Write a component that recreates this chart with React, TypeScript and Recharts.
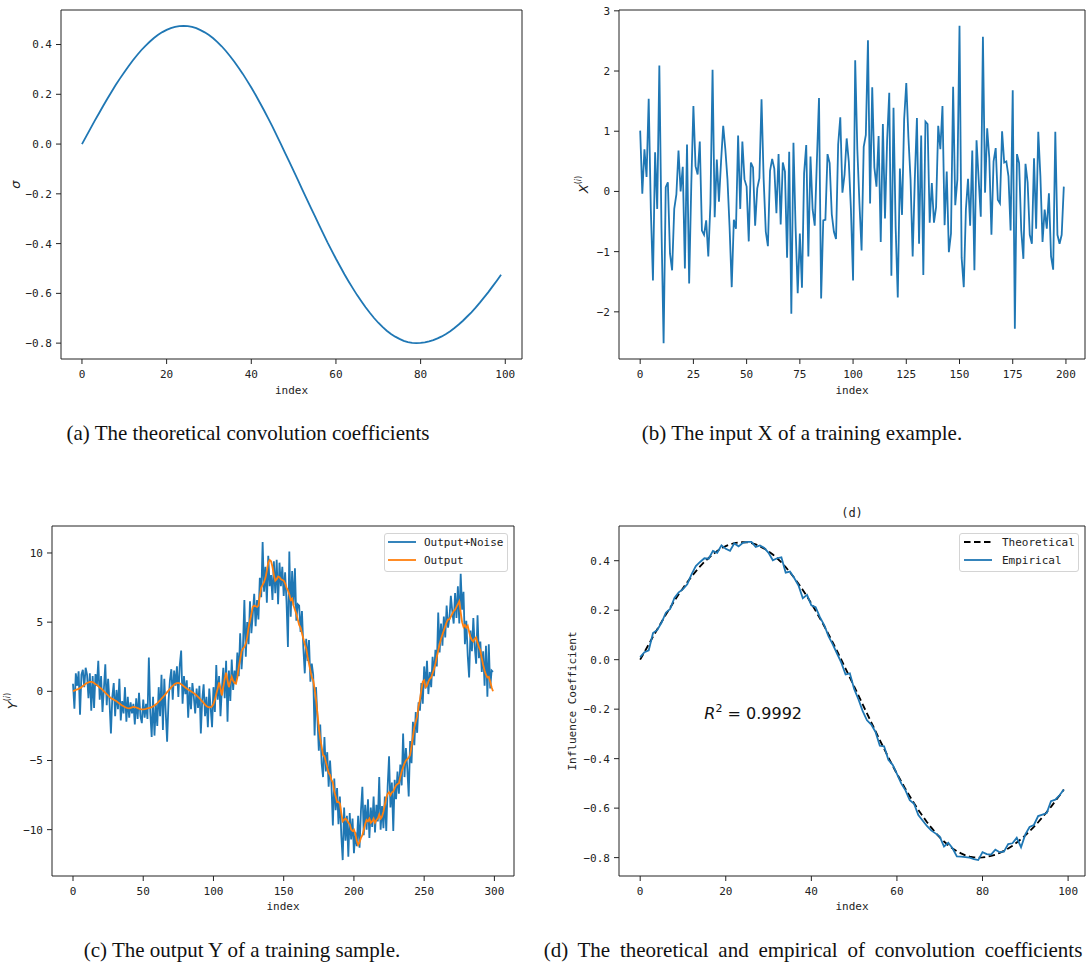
import React from "react";
import {
  LineChart,
  Line,
  XAxis,
  YAxis,
  ReferenceArea,
  ReferenceDot,
  Legend,
} from "recharts";

const BLUE = "#1f77b4";
const ORANGE = "#ff7f0e";
const INK = "#222";
const MONO = "'DejaVu Sans Mono', monospace";
const MATH = "'DejaVu Sans', sans-serif";
const SERIF = "'Liberation Serif', 'Times New Roman', serif";

// (a) and the dashed curve of (d): theoretical coefficient per index 0..99
const theoretical = [
  0, 0.031, 0.062, 0.093, 0.123, 0.153, 0.182, 0.21, 0.238, 0.264,
  0.289, 0.313, 0.336, 0.357, 0.377, 0.395, 0.411, 0.426, 0.439, 0.45,
  0.459, 0.466, 0.471, 0.474, 0.475, 0.474, 0.471, 0.466, 0.458, 0.449,
  0.438, 0.425, 0.41, 0.393, 0.374, 0.353, 0.331, 0.307, 0.282, 0.255,
  0.227, 0.198, 0.167, 0.136, 0.103, 0.07, 0.035, 0.0, -0.036, -0.072,
  -0.108, -0.144, -0.181, -0.217, -0.253, -0.289, -0.325, -0.36, -0.395, -0.428,
  -0.461, -0.492, -0.523, -0.552, -0.58, -0.607, -0.632, -0.656, -0.678, -0.699,
  -0.718, -0.735, -0.75, -0.763, -0.774, -0.783, -0.791, -0.796, -0.799, -0.8,
  -0.799, -0.797, -0.793, -0.788, -0.781, -0.773, -0.763, -0.752, -0.739, -0.725,
  -0.71, -0.693, -0.676, -0.657, -0.637, -0.616, -0.595, -0.572, -0.549, -0.525,
];

// (d) empirical estimate
const empirical = [
  0.01, 0.03, 0.038, 0.108, 0.12, 0.15, 0.19, 0.205, 0.25, 0.272,
  0.285, 0.305, 0.345, 0.378, 0.395, 0.41, 0.408, 0.44, 0.432, 0.462,
  0.448, 0.44, 0.47, 0.458, 0.472, 0.476, 0.476, 0.456, 0.462, 0.452,
  0.432, 0.402, 0.41, 0.414, 0.352, 0.356, 0.33, 0.3, 0.248, 0.262,
  0.22, 0.212, 0.172, 0.14, 0.095, 0.062, 0.025, -0.012, -0.06, -0.055,
  -0.118, -0.16, -0.208, -0.245, -0.262, -0.292, -0.348, -0.35, -0.405, -0.425,
  -0.462, -0.5, -0.528, -0.568, -0.582, -0.628, -0.65, -0.672, -0.69, -0.702,
  -0.715, -0.755, -0.74, -0.762, -0.795, -0.796, -0.798, -0.8, -0.806, -0.81,
  -0.778, -0.786, -0.788, -0.768, -0.778, -0.776, -0.745, -0.742, -0.72, -0.758,
  -0.706, -0.676, -0.668, -0.632, -0.626, -0.62, -0.572, -0.566, -0.548, -0.525,
];

// (b) input X of one training example, index 0..199
const inputX = [
  1.01, -0.04, 0.7, 0.24, 1.54, -0.3, -1.48, 0.65, -0.29, 2.09,
  -0.6, -2.52, 0.07, 0.15, -1.03, -1.31, -0.29, -0.05, 0.68, 0.0,
  0.41, -1.28, 0.78, -1.53, 0.1, 1.42, 0.42, 0.28, 0.83, -0.65,
  -0.72, -0.48, -1.08, -0.2, 2.02, -0.43, 0.53, -0.17, 0.5, 1.09,
  0.7, 0.2, -0.6, -1.59, -0.47, -0.62, 0.93, -0.29, 0.83, 0.2,
  0.08, -0.83, 0.48, 0.4, -0.57, 0.05, 0.22, 1.53, 0.2, -0.67,
  -0.91, 0.34, 0.54, 0.38, -0.36, 0.62, -0.55, 0.48, 0.33, -1.1,
  0.66, -2.03, 0.81, -0.6, -1.69, -0.7, -1.6, 0.3, 0.77, -1.08,
  0.58, -0.3, -0.57, 0.5, 1.55, -1.78, -0.48, -0.47, 0.62, 0.47,
  -0.38, -0.67, -0.79, 0.78, 1.23, -0.02, 0.28, 0.88, 0.49, -0.3,
  -1.48, 2.18, 0.7, -0.2, -0.98, 0.74, 0.94, 2.51, -0.2, 1.73,
  0.4, 0.08, 0.92, -0.84, 1.12, -0.45, 0.85, 1.64, -1.4, 1.39,
  -0.59, -1.76, 0.38, -0.39, 1.2, 1.8, 0.9, 0.2, -1.08, 0.2,
  1.22, -0.87, 0.93, -1.39, 1.16, 1.12, -0.52, 0.14, -0.52, -0.26,
  1.09, 0.7, 1.42, -0.56, 0.33, -1.01, -0.7, 1.74, -0.23, 0.2,
  2.75, -1.1, -1.59, -0.3, 0.21, -0.57, 0.68, -1.31, 0.85, 0.2,
  -0.42, 2.57, -0.02, 1.05, 0.55, -0.72, 0.5, 0.72, -0.14, -0.2,
  1.0, 0.48, 0.5, 0.25, -0.65, 1.68, -2.28, 0.62, 0.47, -0.65,
  -1.12, 0.46, 0.15, -0.72, -0.87, 0.55, -0.62, 0.99, 0.25, -0.84,
  -0.3, -0.62, -0.03, -1.08, -1.3, 0.99, -0.72, -0.87, -0.72, 0.08,
];

// (c) output without noise, index 0..299
const output = [
  0.0, 0.05, 0.1, 0.14, 0.18, 0.23, 0.3, 0.38, 0.46, 0.54,
  0.6, 0.65, 0.68, 0.68, 0.66, 0.6, 0.52, 0.45, 0.37, 0.28,
  0.2, 0.1, 0.0, -0.1, -0.2, -0.3, -0.4, -0.48, -0.55, -0.6,
  -0.66, -0.72, -0.8, -0.88, -0.95, -1.02, -1.08, -1.14, -1.19, -1.22,
  -1.23, -1.2, -1.16, -1.13, -1.14, -1.17, -1.21, -1.25, -1.28, -1.3,
  -1.3, -1.29, -1.27, -1.24, -1.21, -1.18, -1.14, -1.09, -1.02, -0.94,
  -0.85, -0.75, -0.65, -0.53, -0.42, -0.3, -0.18, -0.06, 0.06, 0.18,
  0.3, 0.4, 0.49, 0.56, 0.6, 0.61, 0.58, 0.52, 0.44, 0.36,
  0.28, 0.2, 0.13, 0.06, 0.0, -0.06, -0.13, -0.21, -0.3, -0.4,
  -0.5, -0.61, -0.72, -0.84, -0.96, -1.06, -1.13, -1.16, -1.15, -1.08,
  -0.92, -0.6, -0.2, 0.2, 0.65, 0.2, -0.3, 0.3, 0.9, 1.35,
  0.8, 0.3, 0.7, 1.05, 0.75, 0.6, 0.55, 1.0, 1.75, 2.3,
  2.9, 3.1, 3.2, 3.45, 3.9, 4.6, 5.1, 5.6, 6.1, 6.2,
  6.15, 6.1, 6.2, 6.9, 7.5, 7.7, 7.9, 8.2, 8.7, 9.3,
  9.5, 9.4, 9.0, 8.4, 8.0, 8.1, 8.3, 8.25, 8.1, 8.05,
  8.0, 7.8, 7.5, 7.3, 7.0, 6.6, 6.7, 6.2, 5.9, 5.6,
  5.2, 4.8, 4.6, 4.2, 3.8, 3.4, 3.1, 2.5, 2.0, 1.5,
  1.0, 0.8, 0.2, -0.6, -1.6, -2.6, -3.4, -4.0, -4.6, -4.7,
  -5.1, -5.5, -5.9, -6.05, -6.4, -6.6, -7.25, -7.6, -8.0, -8.0,
  -8.1, -8.8, -9.4, -9.3, -9.2, -9.3, -9.5, -9.6, -10.0, -10.1,
  -10.0, -10.3, -10.8, -11.1, -10.9, -10.6, -10.4, -10.0, -9.6, -9.3,
  -9.4, -9.2, -9.5, -9.4, -9.2, -9.5, -9.3, -9.2, -8.9, -9.2,
  -9.05, -8.7, -8.2, -7.7, -7.4, -7.3, -7.5, -7.3, -7.25, -7.0,
  -6.8, -6.7, -6.65, -6.2, -5.8, -5.5, -5.2, -5.0, -4.9, -4.8,
  -4.6, -4.0, -3.3, -2.6, -2.2, -1.8, -1.1, -0.6, 0.1, 0.7,
  0.8, 0.3, 0.4, 0.7, 0.9, 1.0, 1.3, 1.6, 2.0, 2.5,
  2.95, 3.4, 3.8, 4.1, 4.4, 4.7, 5.0, 5.2, 5.2, 5.4,
  5.6, 5.8, 5.9, 6.1, 6.3, 6.5, 5.7, 5.0, 4.65, 4.8,
  4.6, 4.75, 4.3, 3.9, 3.7, 3.6, 3.8, 3.9, 3.5, 3.2,
  2.95, 2.4, 1.9, 1.5, 1.2, 1.0, 1.05, 0.7, 0.3, 0.0,
];

// (c) output with noise
const outputNoise = [
  0.55, -1.25, 1.3, 0.4, 1.45, -1.7, 1.2, 1.55, 0.3, 1.7,
  1.2, -0.5, 1.3, -1.4, 1.1, -1.2, 1.25, 0.4, 2.2, -0.6,
  1.1, -1.5, 0.2, 1.95, -1.0, 0.9, -0.8, -3.05, -0.4, 0.6,
  -1.8, 0.1, -1.3, 0.9, -2.1, -0.7, -1.6, 0.3, -2.2, -0.4,
  -1.9, -0.8, -1.6, -0.9, -2.4, -0.5, -2.0, -0.1, -1.8, -2.3,
  -0.6, -1.9, -0.9, -2.0, 2.45, -1.5, -3.3, -0.4, -3.2, -1.0,
  -2.5, 0.3, -1.8, 1.2, -2.8, 0.9, -1.5, -3.65, -0.7, 0.8,
  1.6, -0.6, 1.5, 0.4, 1.8, -0.4, 1.9, 2.95, -0.9, 1.1,
  -0.2, 0.8, -1.9, 0.3, -1.3, 0.6, -0.4, -1.6, 0.2, -1.2,
  0.4, -3.05, -0.6, 0.5, -1.8, -0.4, -2.6, 0.2, -1.2, -2.6,
  0.3, -1.5, 1.9, -0.6, 1.1, -1.8, 0.2, 1.7, -0.5, 2.2,
  -2.2, 1.5, -0.7, 2.3, 0.1, 1.5, 0.6, 2.8, 1.1, 4.2,
  1.6, 3.2, 6.6, 2.5, 5.0, 3.4, 6.5, 4.2, 5.6, 7.05,
  4.7, 6.6, 5.2, 8.2, 6.8, 10.8, 7.2, 9.0, 6.4, 9.8,
  7.6, 8.4, 6.6, 9.4, 7.1, 9.5, 6.3, 9.3, 7.6, 9.0,
  6.9, 8.6, 6.5, 3.2, 10.1, 5.4, 8.7, 6.2, 8.9, 5.1,
  6.3, 6.2, 4.3, 5.8, 3.1, 1.3, 3.8, 2.2, 3.7, 0.7,
  2.0, 1.2, -3.2, 0.3, -1.9, -4.3, -2.4, -5.2, -6.2, -3.3,
  -5.8, -4.4, -6.9, -5.0, -6.8, -9.7, -6.3, -8.6, -7.0, -9.6,
  -7.6, -10.4, -12.2, -8.4, -10.8, -9.0, -11.95, -8.8, -10.7, -9.2,
  -11.7, -10.2, -11.2, -9.0, -11.3, -8.6, -6.9, -10.4, -8.2, -10.0,
  -7.8, -10.6, -8.4, -9.8, -7.6, -10.2, -8.2, -9.4, -6.2, -10.0,
  -8.3, -9.9, -7.6, -10.1, -6.9, -4.7, -8.4, -6.6, -10.1, -6.4,
  -7.8, -5.8, -7.4, -5.3, -6.8, -3.05, -6.2, -4.1, -5.6, -7.6,
  -3.6, -5.2, -2.2, -3.9, -1.5, -3.0, -0.8, -1.4, 0.6, -0.9,
  1.8, 0.2, 2.2, -0.2, 1.4, 0.3, 2.5, 1.1, 3.0, 1.8,
  5.7, 2.8, 4.9, 3.3, 5.4, 3.9, 6.2, 4.6, 5.3, 6.9,
  5.8, 4.9, 7.1, 5.3, 7.6, 4.9, 8.5, 5.9, 7.2, 3.4,
  5.1, 2.6, 1.0, 4.4, 2.9, 5.3, 3.2, 2.0, 5.5, 2.4,
  3.6, 1.4, 2.9, 0.4, 3.3, -0.4, 3.4, 0.2, 1.5, 1.4,
];

const coefTicksX = [0, 20, 40, 60, 80, 100];
const coefTicksY = [-0.8, -0.6, -0.4, -0.2, 0, 0.2, 0.4];
const inputTicksX = [0, 25, 50, 75, 100, 125, 150, 175, 200];
const inputTicksY = [-2, -1, 0, 1, 2, 3];
const outputTicksX = [0, 50, 100, 150, 200, 250, 300];
const outputTicksY = [-10, -5, 0, 5, 10];

const R2_VALUE = "0.9992";

const outputSeries = [
  { key: "noisy", name: "Output+Noise", color: BLUE, dash: undefined },
  { key: "clean", name: "Output", color: ORANGE, dash: undefined },
];
const coefSeries = [
  { key: "theoretical", name: "Theoretical", color: "#000", dash: "6.5 3.5" },
  { key: "empirical", name: "Empirical", color: BLUE, dash: undefined },
];

const sigmaRows = theoretical.map((v, i) => ({ index: i, sigma: v }));
const inputRows = inputX.map((v, i) => ({ index: i, x: v }));
const outputRows = output.map((v, i) => ({ index: i, clean: v, noisy: outputNoise[i] }));
const coefRows = theoretical.map((v, i) => ({ index: i, theoretical: v, empirical: empirical[i] }));

const minus = (s: string) => s.replace("-", "\u2212");
const fmt1 = (v: number) => minus(v.toFixed(1));
const fmt0 = (v: number) => minus(String(v));

const tickStyle = { fill: INK, fontSize: 11, fontFamily: MONO };
const xAxisProps = {
  dataKey: "index",
  type: "number" as const,
  axisLine: false,
  tickLine: { stroke: INK },
  tick: tickStyle,
  tickSize: 5,
  tickMargin: 6,
  interval: 0 as const,
  allowDataOverflow: true,
};
const yAxisProps = {
  type: "number" as const,
  axisLine: false,
  tickLine: { stroke: INK },
  tick: tickStyle,
  tickSize: 5,
  tickMargin: 4,
  interval: 0 as const,
  allowDataOverflow: true,
};

const indexLabel = (offset: number) => ({
  value: "index",
  position: "insideBottom" as const,
  offset,
  style: { fill: INK, fontSize: 11, fontFamily: MONO },
});

// rotated y label, relX is measured from the left edge of the axis box
function yLabel(relX: number, body: React.ReactNode, family: string, size: number) {
  return (props: any) => {
    const vb = props.viewBox || { x: 0, y: 0, height: 0 };
    const cx = vb.x + relX;
    const cy = vb.y + vb.height / 2;
    return (
      <text
        x={cx}
        y={cy}
        transform={`rotate(-90 ${cx} ${cy})`}
        textAnchor="middle"
        dominantBaseline="central"
        fontFamily={family}
        fontSize={size}
        fill={INK}
      >
        {body}
      </text>
    );
  };
}

function legendBox(items: typeof outputSeries, width: number, sx: number, tx: number) {
  return () => (
    <div
      style={{
        width,
        height: 39,
        boxSizing: "border-box",
        border: "1px solid #d4d4d4",
        borderRadius: 3,
        background: "rgba(255,255,255,0.8)",
      }}
    >
      <svg width={width - 2} height={37} style={{ display: "block" }}>
        {items.map((it, k) => (
          <g key={it.key}>
            <line
              x1={sx}
              x2={sx + 28}
              y1={8 + 18 * k}
              y2={8 + 18 * k}
              stroke={it.color}
              strokeWidth={1.8}
              strokeDasharray={it.dash}
            />
            <text
              x={tx}
              y={8 + 18 * k}
              dominantBaseline="central"
              fontFamily={MONO}
              fontSize={11}
              fill={INK}
            >
              {it.name}
            </text>
          </g>
        ))}
      </svg>
    </div>
  );
}

const r2Label = (props: any) => {
  const vb = props.viewBox || { x: 0, y: 0 };
  return (
    <text x={vb.x} y={vb.y} fontFamily={MATH} fontSize={16} fill="#111">
      <tspan fontStyle="italic">R</tspan>
      <tspan fontSize={11} dy={-7}>2</tspan>
      <tspan dy={7}>{" = " + R2_VALUE}</tspan>
    </text>
  );
};

const frame = (xd: number[], yd: number[], label?: any) => (
  <ReferenceArea
    x1={xd[0]}
    x2={xd[1]}
    y1={yd[0]}
    y2={yd[1]}
    fill="none"
    fillOpacity={0}
    stroke={INK}
    strokeWidth={1}
    ifOverflow="visible"
    label={label}
  />
);

const captionStyle = (cx: number, cy: number, wordSpacing = 0): React.CSSProperties => ({
  position: "absolute",
  left: cx - 300,
  top: cy - 12,
  width: 600,
  lineHeight: "24px",
  textAlign: "center",
  fontFamily: SERIF,
  fontSize: 21,
  wordSpacing,
  color: "#111",
  whiteSpace: "nowrap",
});

export default function App() {
  const aX = [-4.95, 103.95];
  const aY = [-0.86375, 0.53875];
  const bX = [-9.95, 208.95];
  const bY = [-2.7835, 3.0135];
  const cX = [-14.95, 313.95];
  const cY = [-13.35, 11.95];
  const dX = [-4.95, 103.95];
  const dY = [-0.8743, 0.5403];

  return (
    <div
      style={{
        position: "absolute",
        left: 0,
        top: 0,
        width: 1086,
        height: 966,
        background: "#fff",
        overflow: "hidden",
      }}
    >
      {/* (a) */}
      <div style={{ position: "absolute", left: 0, top: 0 }}>
        <LineChart width={540} height={400} data={sigmaRows} margin={{ top: 10, right: 18, left: 0, bottom: 0 }}>
          <XAxis {...xAxisProps} domain={aX} ticks={coefTicksX} height={41} label={indexLabel(6)} />
          <YAxis
            {...yAxisProps}
            domain={aY}
            ticks={coefTicksY}
            tickFormatter={fmt1}
            width={61}
            label={yLabel(15, <tspan fontStyle="italic">σ</tspan>, MATH, 13)}
          />
          {frame(aX, aY)}
          <Line dataKey="sigma" type="linear" stroke={BLUE} strokeWidth={1.8} dot={false} isAnimationActive={false} />
        </LineChart>
      </div>

      {/* (b) */}
      <div style={{ position: "absolute", left: 540, top: 0 }}>
        <LineChart width={546} height={400} data={inputRows} margin={{ top: 10, right: 1, left: 0, bottom: 0 }}>
          <XAxis {...xAxisProps} domain={bX} ticks={inputTicksX} height={41} label={indexLabel(6)} />
          <YAxis
            {...yAxisProps}
            domain={bY}
            ticks={inputTicksY}
            tickFormatter={fmt0}
            width={79}
            label={yLabel(
              43,
              <>
                <tspan fontStyle="italic">X</tspan>
                <tspan fontSize={8} dy={-5}>(</tspan>
                <tspan fontSize={8} fontStyle="italic">i</tspan>
                <tspan fontSize={8}>)</tspan>
              </>,
              MATH,
              13
            )}
          />
          {frame(bX, bY)}
          <Line dataKey="x" type="linear" stroke={BLUE} strokeWidth={1.8} dot={false} isAnimationActive={false} />
        </LineChart>
      </div>

      {/* (c) */}
      <div style={{ position: "absolute", left: 0, top: 480 }}>
        <LineChart width={540} height={440} data={outputRows} margin={{ top: 46, right: 26, left: 0, bottom: 0 }}>
          <XAxis {...xAxisProps} domain={cX} ticks={outputTicksX} height={44} label={indexLabel(10)} />
          <YAxis
            {...yAxisProps}
            domain={cY}
            ticks={outputTicksY}
            tickFormatter={fmt0}
            width={52}
            label={yLabel(
              12,
              <>
                <tspan fontStyle="italic">Y</tspan>
                <tspan fontSize={8} dy={-5}>(</tspan>
                <tspan fontSize={8} fontStyle="italic">i</tspan>
                <tspan fontSize={8}>)</tspan>
              </>,
              MATH,
              13
            )}
          />
          {frame(cX, cY)}
          {outputSeries.map((s) => (
            <Line
              key={s.key}
              dataKey={s.key}
              name={s.name}
              type="linear"
              stroke={s.color}
              strokeWidth={1.8}
              dot={false}
              isAnimationActive={false}
            />
          ))}
          <Legend
            layout="horizontal"
            align="center"
            verticalAlign="middle"
            wrapperStyle={{ top: 53, left: 384, width: 124, height: 39 }}
            content={legendBox(outputSeries, 124, 3, 39)}
          />
        </LineChart>
      </div>

      {/* (d) */}
      <div style={{ position: "absolute", left: 540, top: 480 }}>
        <LineChart width={546} height={440} data={coefRows} margin={{ top: 46, right: 1, left: 0, bottom: 0 }}>
          <XAxis {...xAxisProps} domain={dX} ticks={coefTicksX} height={44} label={indexLabel(10)} />
          <YAxis
            {...yAxisProps}
            domain={dY}
            ticks={coefTicksY}
            tickFormatter={fmt1}
            width={79}
            label={yLabel(32, "Influence Coefficient", MONO, 11)}
          />
          {frame(dX, dY, {
            value: "(d)",
            position: "top",
            offset: 9,
            style: { fill: INK, fontSize: 12, fontFamily: MONO },
          })}
          {coefSeries.map((s) => (
            <Line
              key={s.key}
              dataKey={s.key}
              name={s.name}
              type="linear"
              stroke={s.color}
              strokeWidth={1.8}
              strokeDasharray={s.dash}
              dot={false}
              isAnimationActive={false}
            />
          ))}
          <ReferenceDot x={15} y={-0.24} r={0} fill="none" stroke="none" ifOverflow="visible" label={r2Label} />
          <Legend
            layout="horizontal"
            align="center"
            verticalAlign="middle"
            wrapperStyle={{ top: 53, left: 419, width: 120, height: 39 }}
            content={legendBox(coefSeries, 120, 4, 42)}
          />
        </LineChart>
      </div>

      <div style={captionStyle(248, 433)}>(a) The theoretical convolution coefficients</div>
      <div style={captionStyle(802, 433)}>(b) The input X of a training example.</div>
      <div style={captionStyle(242, 950)}>(c) The output Y of a training sample.</div>
      <div style={captionStyle(813, 950, 4.5)}>(d) The theoretical and empirical of convolution coefficients</div>
    </div>
  );
}
